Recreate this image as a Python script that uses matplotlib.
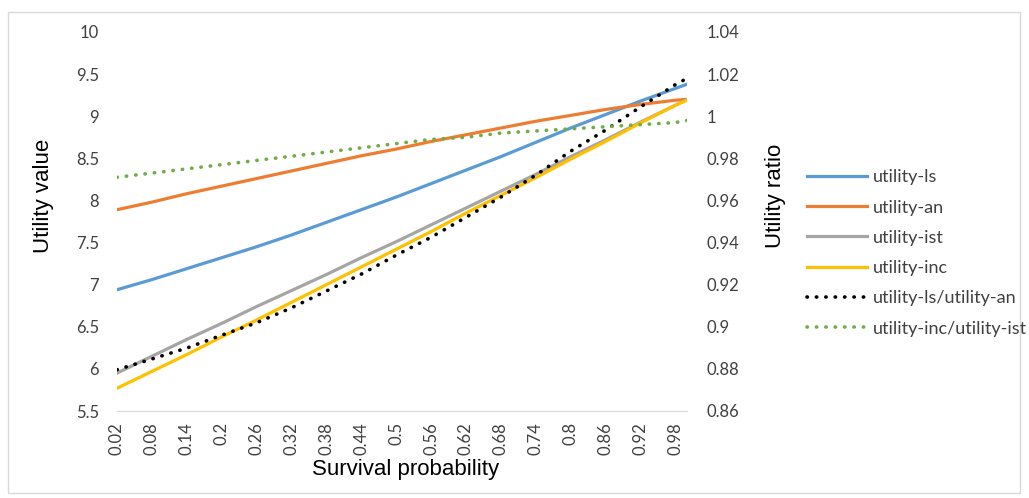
import matplotlib.pyplot as plt
from matplotlib.patches import Rectangle

plt.rcParams['font.family'] = ['Lato', 'DejaVu Sans']

# survival probability (values read at the labelled categories + last point)
prob = [0.02, 0.08, 0.14, 0.20, 0.26, 0.32, 0.38, 0.44, 0.50, 0.56,
        0.62, 0.68, 0.74, 0.80, 0.86, 0.92, 0.98, 1.00]
tick_labels = ['0.02', '0.08', '0.14', '0.2', '0.26', '0.32', '0.38', '0.44', '0.5',
               '0.56', '0.62', '0.68', '0.74', '0.8', '0.86', '0.92', '0.98']

utility_ls = [6.94, 7.06, 7.19, 7.32, 7.45, 7.59, 7.74, 7.89, 8.04, 8.20,
              8.36, 8.52, 8.69, 8.86, 9.02, 9.18, 9.33, 9.38]
utility_an = [7.89, 7.98, 8.08, 8.17, 8.26, 8.35, 8.44, 8.53, 8.61, 8.70,
              8.78, 8.86, 8.94, 9.01, 9.08, 9.14, 9.19, 9.20]
utility_ist = [5.95, 6.15, 6.35, 6.54, 6.74, 6.93, 7.12, 7.32, 7.51, 7.71,
               7.91, 8.11, 8.31, 8.52, 8.72, 8.93, 9.13, 9.20]
utility_inc = [5.77, 5.97, 6.17, 6.38, 6.58, 6.79, 7.00, 7.21, 7.42, 7.63,
               7.85, 8.06, 8.27, 8.49, 8.70, 8.92, 9.13, 9.19]
ratio_ls_an = [0.8796, 0.8847, 0.8899, 0.8960, 0.9019, 0.9090, 0.9170, 0.9250, 0.9340,
               0.9425, 0.9520, 0.9616, 0.9720, 0.9834, 0.9934, 1.0044, 1.0150, 1.0180]
ratio_inc_ist = [0.971, 0.973, 0.975, 0.977, 0.979, 0.981, 0.983, 0.985, 0.987,
                 0.989, 0.990, 0.992, 0.993, 0.994, 0.995, 0.996, 0.997, 0.998]

fig = plt.figure(figsize=(10.29, 4.98), dpi=100)
fig.patches.append(Rectangle((8/1029, 1-493/498), 1012/1029, 481/498, transform=fig.transFigure,
                             fill=False, edgecolor='#D9D9D9', lw=1))
ax = fig.add_axes([117/1029, 1-411/498, 570/1029, 379/498])
ax2 = ax.twinx()

lw = 2.3
l1, = ax.plot(prob, utility_ls, color='#5B9BD5', lw=lw, label='utility-ls')
l2, = ax.plot(prob, utility_an, color='#ED7D31', lw=lw, label='utility-an')
l3, = ax.plot(prob, utility_ist, color='#A5A5A5', lw=lw, label='utility-ist')
l4, = ax.plot(prob, utility_inc, color='#FFC000', lw=lw, label='utility-inc')
l5, = ax2.plot(prob, ratio_ls_an, color='black', lw=2.6, dashes=(0.1, 2.5),
               dash_capstyle='round', label='utility-ls/utility-an')
l6, = ax2.plot(prob, ratio_inc_ist, color='#70AD47', lw=2.6, dashes=(0.1, 2.5),
               dash_capstyle='round', label='utility-inc/utility-ist')

ax.set_xlim(0.02, 1.0)
ax.set_ylim(5.5, 10)
ax2.set_ylim(0.86, 1.04)
ax.set_xticks(prob[:-1])
ax.set_xticklabels(tick_labels, rotation=90)
ax.set_yticks([5.5, 6, 6.5, 7, 7.5, 8, 8.5, 9, 9.5, 10])
ax.set_yticklabels(['5.5', '6', '6.5', '7', '7.5', '8', '8.5', '9', '9.5', '10'])
ax2.set_yticks([0.86, 0.88, 0.9, 0.92, 0.94, 0.96, 0.98, 1.0, 1.02, 1.04])
ax2.set_yticklabels(['0.86', '0.88', '0.9', '0.92', '0.94', '0.96', '0.98', '1', '1.02', '1.04'])

for a in (ax, ax2):
    for s in a.spines.values():
        s.set_visible(False)
    a.tick_params(length=0, labelsize=12, colors='#404040')
ax.spines['bottom'].set_visible(True)
ax.spines['bottom'].set_color('#D9D9D9')
ax.tick_params(axis='y', pad=13)
ax.tick_params(axis='x', pad=8)
ax2.tick_params(axis='y', pad=14)

lab = dict(fontsize=16, family=['Liberation Sans', 'DejaVu Sans'])
fig.text(43/1029, 1-196/498, 'Utility value', rotation=90, ha='center', va='center', **lab)
fig.text(775/1029, 1-196/498, 'Utility ratio', rotation=90, ha='center', va='center', **lab)
fig.text(406/1029, 1-469/498, 'Survival probability', ha='center', va='center', **lab)

fig.legend(handles=[l1, l2, l3, l4, l5, l6], loc='upper left', bbox_to_anchor=(791/1029, 1-153/498),
           frameon=False, fontsize=13, handlelength=3.33, handletextpad=0.28, labelspacing=0.79,
           labelcolor='#404040')

fig.savefig('out.png', dpi=100)
